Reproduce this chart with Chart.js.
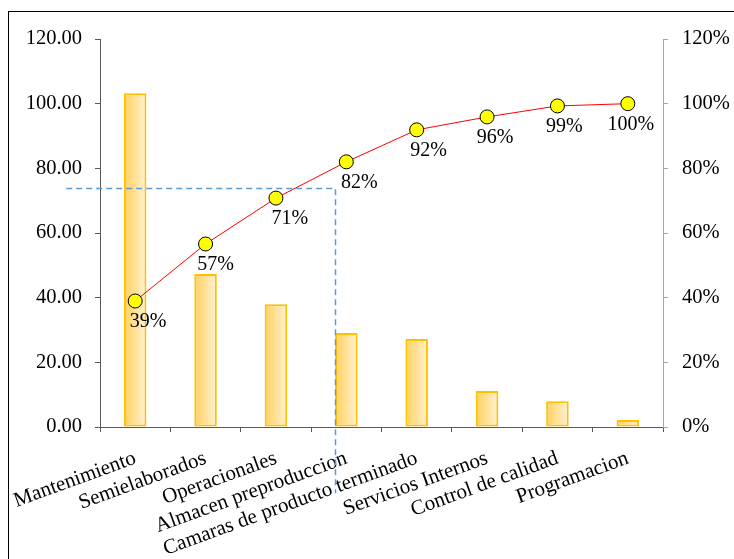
<!DOCTYPE html>
<html><head><meta charset="utf-8">
<script src="https://cdn.jsdelivr.net/npm/chart.js@4"></script>
<style>html,body{margin:0;padding:0;background:#fff}#wrap{width:734px;height:559px;position:relative}</style>
</head><body><div id="wrap"><canvas id="c"></canvas></div>
<script>
// ---- data ----
const categories = ['Mantenimiento','Semielaborados','Operacionales','Almacen preproduccion','Camaras de producto terminado','Servicios Internos','Control de calidad','Programacion'];
const frequencies = [103.2, 47.3, 38.0, 29.1, 27.2, 11.1, 8.0, 2.2];
const cumulativePct = [38.97, 56.6, 70.8, 82.0, 91.9, 95.9, 99.3, 100];
const cumulativeLabels = ['39%','57%','71%','82%','92%','96%','99%','100%'];
const leftTickLabels = ['0.00','20.00','40.00','60.00','80.00','100.00','120.00'];
const rightTickLabels = ['0%','20%','40%','60%','80%','100%','120%'];
// dashed reference guide (in axis units)
const refLevel = 73.9;
const refXRange = [-0.98, 2.845];
const refBottom = -20.5;

const FAMILY = "'Liberation Serif', 'Times New Roman', serif";
const FONT = {family: FAMILY, size: 20};
const YFONT = {family: FAMILY, size: 20.5};
const XFONT = {family: FAMILY, size: 21};
// horizontal nudges of the point labels (pixels), as placed in the reference
const labelNudge = [13, 10, 14, 13, 12, 8, 7, 3];

const frame = {
  id: 'frame',
  beforeDraw(chart) {
    const c = chart.ctx;
    c.save();
    c.fillStyle = '#fff';
    c.fillRect(0, 0, chart.width, chart.height);
    c.strokeStyle = '#000';
    c.lineWidth = 1;
    c.strokeRect(8.5, 11.5, 900, 900);
    c.restore();
  }
};

const barGradient = {
  id: 'barGradient',
  beforeDatasetsDraw(chart) {
    const meta = chart.getDatasetMeta(0);
    const c = chart.ctx;
    meta.data.forEach(el => {
      const g = c.createLinearGradient(el.x - el.width / 2, 0, el.x + el.width / 2, 0);
      g.addColorStop(0, '#FFD05C');
      g.addColorStop(1, '#FFF2D4');
      el.options.backgroundColor = g;
    });
  }
};

const annotations = {
  id: 'annotations',
  afterDatasetsDraw(chart) {
    const c = chart.ctx;
    const xs = chart.scales.x, ys = chart.scales.y;
    const yPix = Math.round(ys.getPixelForValue(refLevel)) + 0.5;
    const x0 = xs.getPixelForValue(refXRange[0]);
    const x1 = Math.round(xs.getPixelForValue(refXRange[1])) + 0.5;
    const yB = ys.getPixelForValue(refBottom);
    c.save();
    c.strokeStyle = '#5B9BD5';
    c.lineWidth = 1.5;
    c.setLineDash([6, 4]);
    c.beginPath();
    c.moveTo(x0, yPix);
    c.lineTo(x1, yPix);
    c.lineTo(x1, yB);
    c.stroke();
    c.restore();
    const meta = chart.getDatasetMeta(1);
    c.save();
    c.font = `${FONT.size}px ${FONT.family}`;
    c.fillStyle = '#000';
    c.textAlign = 'center';
    c.textBaseline = 'top';
    meta.data.forEach((el, i) => {
      c.fillText(cumulativeLabels[i], el.x + labelNudge[i], el.y + 11);
    });
    c.restore();
  }
};

new Chart(document.getElementById('c'), {
  type: 'bar',
  data: {
    labels: categories,
    datasets: [
      {
        type: 'bar', data: frequencies, yAxisID: 'y', order: 1,
        backgroundColor: () => '#FFE9A8',
        borderColor: '#FFC000', borderWidth: 2, borderSkipped: false,
        barPercentage: 0.32, categoryPercentage: 1
      },
      {
        type: 'line', data: cumulativePct, yAxisID: 'y1', order: 0,
        borderColor: '#FF0000', borderWidth: 1, tension: 0,
        pointRadius: 7, pointBackgroundColor: '#FFFF00', pointBorderColor: '#000', pointBorderWidth: 1
      }
    ]
  },
  options: {
    responsive: true, maintainAspectRatio: false, animation: false,
    layout: {padding: {top: 39, left: 0, right: 0, bottom: 0}},
    plugins: {legend: {display: false}, tooltip: {enabled: false}},
    scales: {
      x: {
        offset: true,
        grid: {display: true, drawOnChartArea: false, drawTicks: true, tickLength: 5, color: '#595959', offset: true},
        border: {display: true, color: '#595959', width: 1},
        ticks: {font: XFONT, color: '#000', minRotation: 20, maxRotation: 20, autoSkip: false, padding: 14},
        afterFit: s => { s.height = 132; s.paddingLeft = 0; s.paddingRight = 0; }
      },
      y: {
        position: 'left', min: 0, max: 120,
        grid: {display: true, drawOnChartArea: false, drawTicks: true, tickLength: 5, color: '#595959'},
        border: {display: true, color: '#595959', width: 1},
        ticks: {stepSize: 20, font: YFONT, color: '#000', padding: 13, callback: (v, i) => leftTickLabels[i]},
        afterFit: s => { s.width = 100; }
      },
      y1: {
        position: 'right', min: 0, max: 120,
        grid: {display: true, drawOnChartArea: false, drawTicks: true, tickLength: 5, color: '#A6A6A6'},
        border: {display: true, color: '#A6A6A6', width: 1},
        ticks: {stepSize: 20, font: YFONT, color: '#000', padding: 14, callback: (v, i) => rightTickLabels[i]},
        afterFit: s => { s.width = 71; }
      }
    }
  },
  plugins: [frame, barGradient, annotations]
});
</script>
</body></html>
